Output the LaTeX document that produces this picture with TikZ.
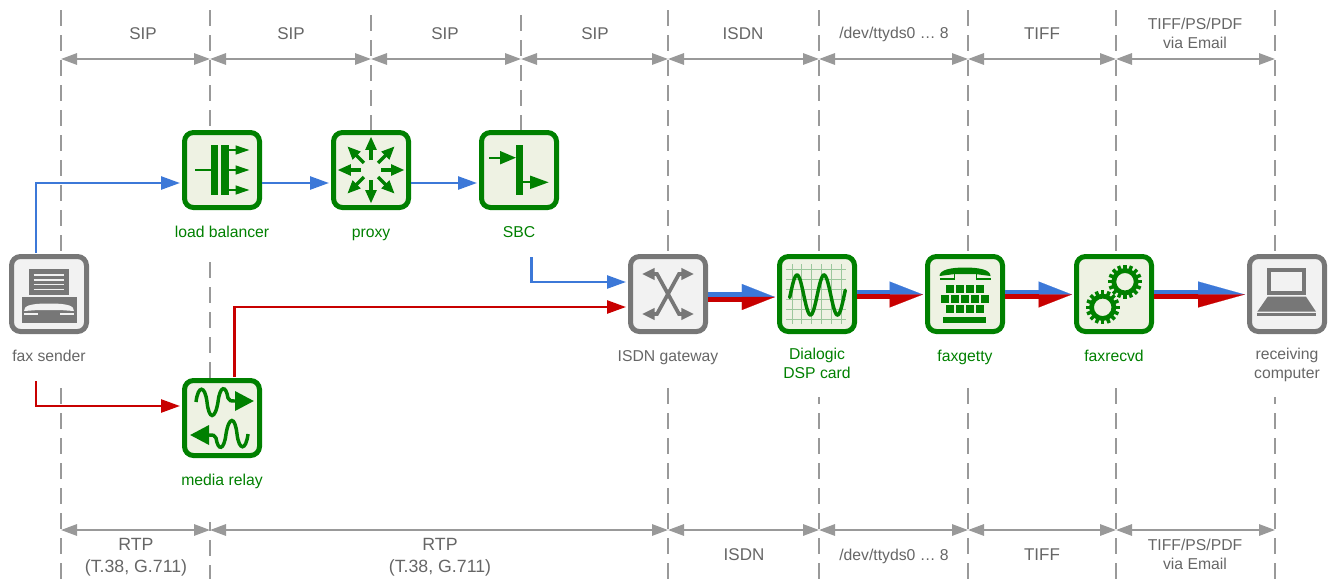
\documentclass[tikz,border=0pt]{standalone}
\usepackage{fontspec}
\setmainfont{Liberation Sans}
\usetikzlibrary{arrows.meta, calc}

\definecolor{boxgreen}{HTML}{008000}
\definecolor{boxgray}{HTML}{777777}
\definecolor{palegreen}{HTML}{EEF2E3}
\definecolor{palegray}{HTML}{F2F2F2}
\definecolor{gridgreen}{HTML}{9CC79C}
\definecolor{txtgray}{HTML}{666666}
\definecolor{dimgray}{HTML}{999999}
\definecolor{sigblue}{HTML}{3C78D8}
\definecolor{sigred}{HTML}{C80000}

\tikzset{
    iconbox/.style={draw, rounded corners=6.75pt, line width=3.75pt, minimum size=56.25pt, inner sep=0pt},
    greenbox/.style={iconbox, draw=boxgreen, fill=palegreen},
    graybox/.style={iconbox, draw=boxgray, fill=palegray},
    greenlbl/.style={text=boxgreen, font=\fontsize{11.8}{14.25}\selectfont, align=center, inner sep=0pt},
    graylbl/.style={text=txtgray, font=\fontsize{11.8}{14.25}\selectfont, align=center, inner sep=0pt},
    dimlbl/.style={text=txtgray, font=\fontsize{12.75}{16.5}\selectfont, align=center, inner sep=0pt},
    rtplbl/.style={text=txtgray, font=\fontsize{13.3}{16.5}\selectfont, align=center, inner sep=0pt},
    boundary/.style={dimgray, line width=1.5pt, dash pattern=on 12pt off 6.75pt},
    dimline/.style={dimgray, line width=1.5pt, {Triangle[length=12pt,width=8.5pt]}-{Triangle[length=12pt,width=8.5pt]}},
    sigline/.style={line width=1.9pt, ->, >={Triangle[length=14.25pt,width=9.75pt]}, shorten >=1.5pt},
    fatshaft/.style={line width=3.5pt},
    iconarrow/.style={line width=1.5pt, ->, >={Triangle[length=10.5pt,width=6.6pt]}},
}

\begin{document}
\begin{tikzpicture}[x=0.75pt, y=-0.75pt]
    \useasboundingbox (0,0) rectangle (1334,579);

    % boundaries between the protocols
    \foreach \x/\ya/\yb in {61/10/253, 210/10/130, 371/15/130, 521/15/130, 668/10/254, 819/10/254, 968/10/254, 1116/10/254, 1275/10/254}
        \draw[boundary] (\x,\ya) -- (\x,\yb);
    \foreach \x/\ya/\off in {61/388/0, 210/262/0, 210/522/5.25, 668/388/0, 819/397/6.75, 968/388/0, 1116/388/0, 1275/397/6.75}
        \draw[boundary, dash phase=\off pt] (\x,\ya) -- (\x,\ifnum\ya=262 378\else 579\fi);

    \foreach \n/\x in {0/61, 1/210, 2/371, 3/521, 4/668, 5/819, 6/968, 7/1116, 8/1275} {
        \coordinate (top\n) at (\x,59);
        \coordinate (bot\n) at (\x,530);
    }
    \foreach \a/\b in {0/1, 1/2, 2/3, 3/4, 4/5, 5/6, 6/7, 7/8}
        \draw[dimline] (top\a) -- (top\b);
    \foreach \a/\b in {0/1, 1/4, 4/5, 5/6, 6/7, 7/8}
        \draw[dimline] (bot\a) -- (bot\b);

    \node[dimlbl, anchor=base] (sipa) at (143,39) {SIP};
    \node[dimlbl, anchor=base] (sipb) at (291,39) {SIP};
    \node[dimlbl, anchor=base] (sipc) at (445,39) {SIP};
    \node[dimlbl, anchor=base] (sipd) at (595,39) {SIP};
    \node[dimlbl, anchor=base] (isdntop) at (743,39) {ISDN};
    \node[graylbl, anchor=base] (devtop) at (894,38) {/dev/ttyds0 … 8};
    \node[dimlbl, anchor=base] (tifftop) at (1042,39) {TIFF};
    \node[graylbl] (mailtop) at (1195,33) {TIFF/PS/PDF\\via Email};
    \node[rtplbl] (rtpa) at (136,557) {RTP\\(T.38, G.711)};
    \node[rtplbl] (rtpb) at (440,557) {RTP\\(T.38, G.711)};
    \node[dimlbl, anchor=base] (isdnbot) at (744,560) {ISDN};
    \node[graylbl, anchor=base] (devbot) at (894,560) {/dev/ttyds0 … 8};
    \node[dimlbl, anchor=base] (tiffbot) at (1042,560) {TIFF};
    \node[graylbl] (mailbot) at (1195,554) {TIFF/PS/PDF\\via Email};

    % the boxes
    \node[graybox] (fax) at (49,294) {};
    \node[greenbox] (lb) at (222,170) {};
    \node[greenbox] (proxy) at (371,170) {};
    \node[greenbox] (sbc) at (519,170) {};
    \node[greenbox] (relay) at (222,418) {};
    \node[graybox] (isdn) at (668,294) {};
    \node[greenbox] (dsp) at (817,294) {};
    \node[greenbox] (getty) at (965,294) {};
    \node[greenbox] (recvd) at (1114,294) {};
    \node[graybox] (pc) at (1287,294) {};

    \node[graylbl, anchor=base] (faxlbl) at (49,361) {fax sender};
    \node[greenlbl, anchor=base] (lblbl) at (222,237) {load balancer};
    \node[greenlbl, anchor=base] (proxylbl) at (371,237) {proxy};
    \node[greenlbl, anchor=base] (sbclbl) at (519,237) {SBC};
    \node[greenlbl, anchor=base] (relaylbl) at (222,485.5) {media relay};
    \node[graylbl, anchor=base] (isdnlbl) at (668,361) {ISDN gateway};
    \node[greenlbl] (dsplbl) at (817,363) {Dialogic\\DSP card};
    \node[greenlbl, anchor=base] (gettylbl) at (965,361) {faxgetty};
    \node[greenlbl, anchor=base] (recvdlbl) at (1114,361) {faxrecvd};
    \node[graylbl] (pclbl) at (1287,365) {receiving\\computer};

    % signalling and media paths
    \coordinate (upper) at (0,183);
    \coordinate (lower) at (0,406);
    \coordinate (sbcout) at (0,282);
    \coordinate (relayout) at (0,307);
    \coordinate (faxblue) at (36,253);
    \coordinate (faxred) at (36,381);
    \coordinate (sbcblue) at (531.5,257);
    \coordinate (relayred) at (234.5,377);
    \draw[sigline, sigblue] (faxblue) |- (lb.west |- upper);
    \draw[sigline, sigblue] (lb.east |- upper) -- (proxy.west |- upper);
    \draw[sigline, sigblue] (proxy.east |- upper) -- (sbc.west |- upper);
    \draw[sigline, sigblue] (sbcblue) |- (isdn.west |- sbcout);
    \draw[sigline, sigred] (faxred) |- (relay.west |- lower);
    \draw[sigline, sigred] (relayred) |- (isdn.west |- relayout);

    % the fat arrows
    \foreach \a/\b/\len/\off in {isdn/dsp/24.75pt/3, dsp/getty/25pt/.5, getty/recvd/25pt/.5, recvd/pc/35pt/.5} {
        \draw[fatshaft, sigblue, shorten >=\len] ($(\a.east)+(0,{\off-2.35})$) -- ($(\b.west)+(0,{\off-2.35})$);
        \draw[fatshaft, sigred, shorten >=\len] ($(\a.east)+(0,{\off+2.35})$) -- ($(\b.west)+(0,{\off+2.35})$);
        \draw[sigblue, line width=.1pt, shorten >=1.5pt, -{Triangle[length=\len,width=19.5pt,left]}] ($(\a.east)+(0,\off)$) -- ($(\b.west)+(0,\off)$);
        \draw[sigred, line width=.1pt, shorten >=1.5pt, -{Triangle[length=\len,width=19.5pt,right]}] ($(\a.east)+(0,\off)$) -- ($(\b.west)+(0,\off)$);
    }

    % icon of the fax sender
    \begin{scope}[shift={(fax.center)}]
        \fill[boxgray] (-20,-25) rectangle (20,1);
        \foreach \y in {-19,-14,-9.5,-4.5}
            \draw[palegray, line width=.9pt] (-15.5,\y) -- (15,\y);
        \fill[boxgray] (-27.5,3) rectangle (27.5,28.5);
        \fill[palegray] (-25,17) .. controls (-25,12) and (-20,9.5) .. (0,9.5) .. controls (20,9.5) and (25,12) .. (25,17) -- (11,16) -- (-11,16) -- cycle;
        \fill[palegray] (-25,19) rectangle (-11,20.7);
        \fill[palegray] (11,19) rectangle (25,20.7);
    \end{scope}

    % icon of the load balancer
    \begin{scope}[shift={(lb.center)}, boxgreen]
        \fill (-11,-25) rectangle (-3.7,25);
        \fill (-.7,-25) rectangle (6.7,25);
        \draw[line width=1.3pt] (-27,0) -- (-11,0);
        \foreach \y in {-20,0,20}
            \draw[iconarrow] (6.7,\y) -- (27.5,\y);
    \end{scope}

    % icon of the proxy
    \begin{scope}[shift={(proxy.center)}, boxgreen]
        \foreach \ang in {0,45,...,315}
            \draw[line width=2.4pt, ->, >={Triangle[length=10pt,width=8pt]}] (\ang:10) -- (\ang:33.5);
    \end{scope}

    % icon of the SBC
    \begin{scope}[shift={(sbc.center)}, boxgreen]
        \fill (-3,-25) rectangle (3.7,25);
        \draw[line width=1.5pt, ->, >={Triangle[length=12pt,width=9.75pt]}] (-30,-12.3) -- (-3,-12.3);
        \draw[line width=1.5pt, ->, >={Triangle[length=14pt,width=9.75pt]}] (3.7,12.3) -- (29.7,12.3);
    \end{scope}

    % icon of the media relay
    \foreach \r in {0,180} {
        \begin{scope}[shift={(relay.center)}, rotate=\r, boxgreen]
            \draw[line width=2.6pt, ->, >={Triangle[length=14.25pt,width=14.25pt]}] (-26,-16) .. controls (-24,-33) and (-17,-33) .. (-15,-16)
                .. controls (-13,2) and (-7,2) .. (-4,-16) .. controls (-2,-33) and (4,-33) .. (6,-20)
                .. controls (7,-17) and (9,-17) .. (13,-17) -- (32,-17);
        \end{scope}
    }

    % icon of the ISDN gateway
    \begin{scope}[shift={(isdn.center)}, boxgray]
        \draw[line width=2.8pt, <->, >={Triangle[length=9.5pt,width=8.5pt]}] (-26,-20) -- (-11,-20) -- (11,20) -- (26,20);
        \draw[line width=2.8pt, <->, >={Triangle[length=9.5pt,width=8.5pt]}] (26,-20) -- (11,-20) -- (-11,20) -- (-26,20);
    \end{scope}

    % icon of the DSP card
    \begin{scope}[shift={(dsp.center)}]
        \foreach \x in {-25,-15.2,-5.4,4.4,14.2,24}
            \draw[gridgreen, line width=.75pt] (\x,-30) -- (\x,30);
        \foreach \y in {-25,-15,-5,5,15,25}
            \draw[gridgreen, line width=.75pt] (-31,\y) -- (29,\y);
        \draw[boxgreen, line width=2.6pt, line cap=round] plot[domain=-27.3:28.3, samples=80, smooth] (\x, {1-20*sin((\x+26.75)*180/13.5)});
    \end{scope}

    % icon of faxgetty
    \begin{scope}[shift={(getty.center)}, boxgreen]
        \fill (-25.5,-18) .. controls (-25.5,-24) and (-15,-26.5) .. (0,-26.5) .. controls (15,-26.5) and (25.5,-24) .. (25.5,-18) -- (10,-20) -- (-10,-20) -- cycle;
        \fill (-25.5,-16.3) rectangle (-10.5,-14.5);
        \fill (10.5,-16.3) rectangle (25.5,-14.5);
        \fill (-11.5,-20) rectangle (-10.5,-14.5);
        \fill (10.5,-20) rectangle (11.5,-14.5);
        \foreach \x in {-19.3,-9.3,.7,10.7} {
            \fill (\x,-9) rectangle +(8,8.3);
            \fill (\x,11) rectangle +(8,8);
        }
        \foreach \x in {-24.3,-14.3,-4.3,5.7,15.7}
            \fill (\x,1) rectangle +(8,8.3);
        \fill (-21.7,23) rectangle (21,28.7);
    \end{scope}

    % icon of faxrecvd
    \foreach \gx/\gy in {11/-12.3, -11.3/13.3} {
        \begin{scope}[shift={(recvd.center)}, shift={(\gx,\gy)}, boxgreen]
            \draw[line width=3.6pt] (0,0) circle [radius=11.2];
            \foreach \ang in {0,22.5,...,337.5}
                \draw[line width=2.6pt] (\ang:12) -- (\ang:17);
        \end{scope}
    }

    % icon of the receiving computer
    \begin{scope}[shift={(pc.center)}, boxgray]
        \draw[line width=3pt] (-18.3,-24.3) rectangle (17,-1);
        \fill (-19.3,2.7) -- (19,2.7) -- (29,17.7) -- (-29.7,17.7) -- cycle;
        \fill (-29.7,19.3) rectangle (29,22);
    \end{scope}
\end{tikzpicture}
\end{document}
